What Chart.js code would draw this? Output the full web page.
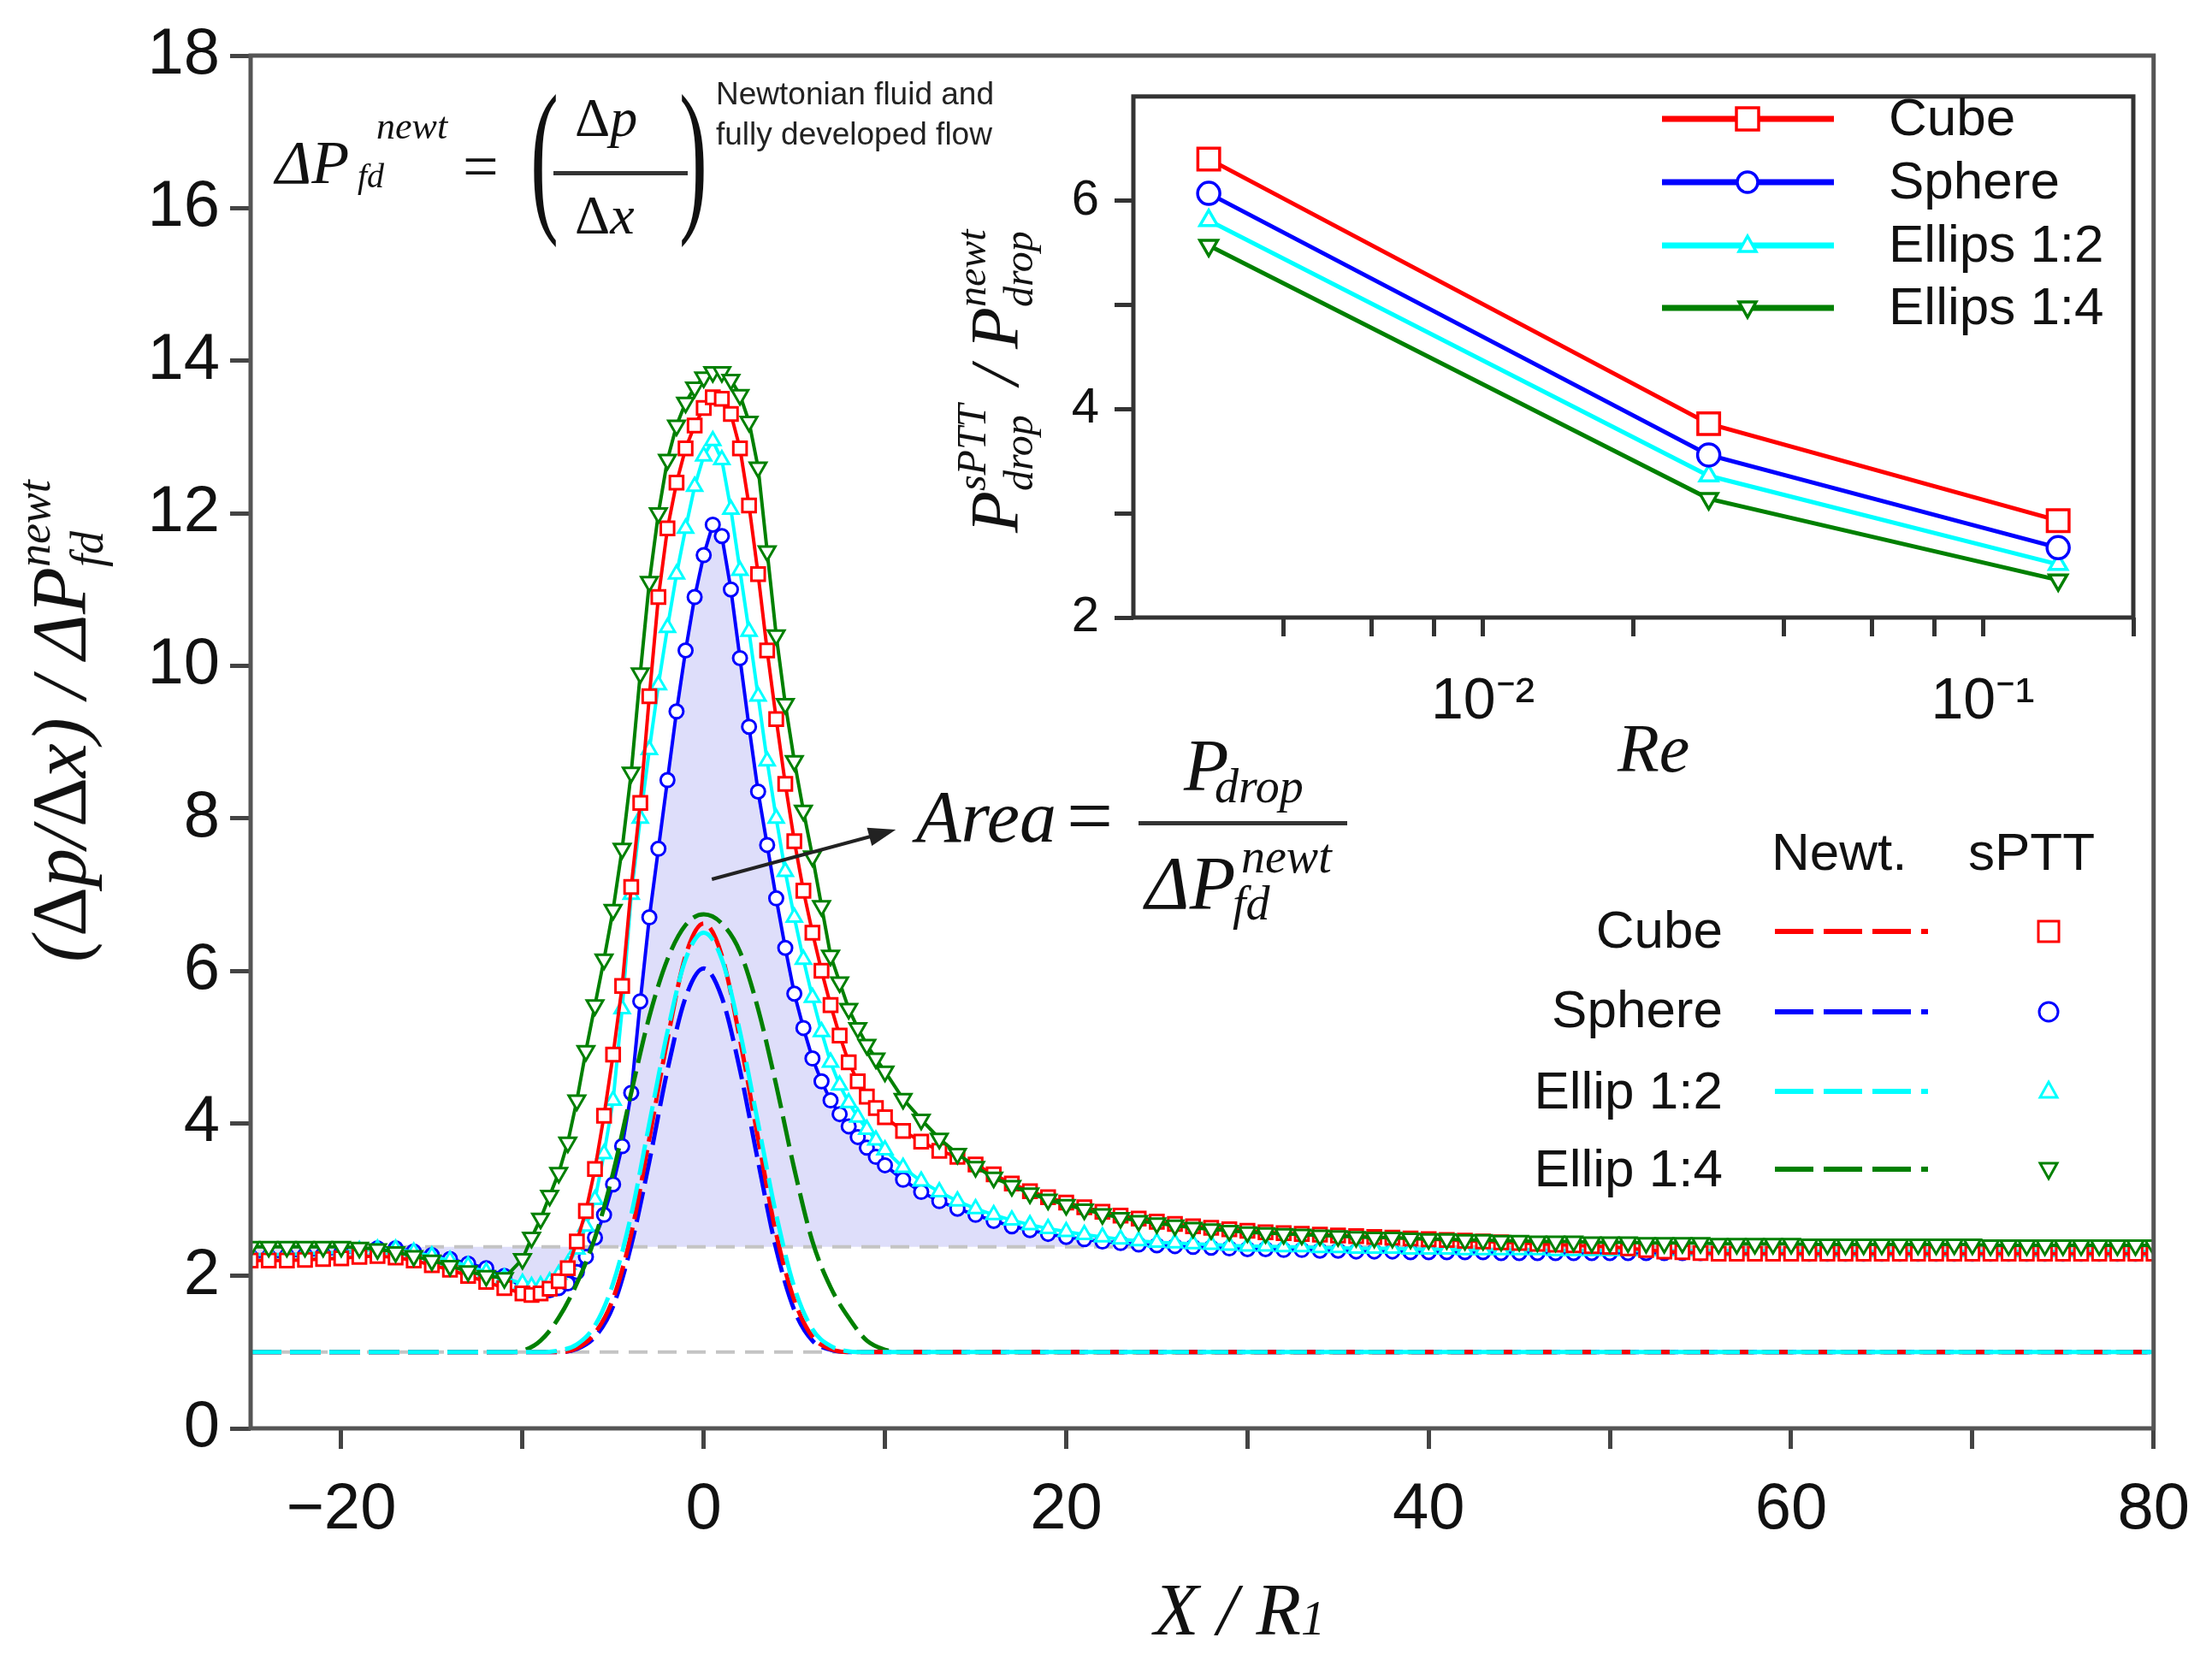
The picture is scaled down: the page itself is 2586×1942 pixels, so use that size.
<!DOCTYPE html>
<html>
<head>
<meta charset="utf-8">
<script src="https://cdn.jsdelivr.net/npm/chart.js@4.4.1/dist/chart.umd.min.js"></script>
<style>
  html, body { margin: 0; padding: 0; background: #fff; }
  #page { position: relative; width: 2586px; height: 1942px; overflow: hidden;
          font-family: "Liberation Sans", Arial, sans-serif; color: #111; }
  canvas { position: absolute; }
  .t { position: absolute; white-space: nowrap; line-height: 1; }
  .m { font-family: "Liberation Serif", "Times New Roman", serif; font-style: italic; }
  .up { font-style: normal; }
  .rot { transform: translate(-50%, -50%) rotate(-90deg); }
  .ss { display: inline-block; position: relative; height: 0; vertical-align: baseline; }
  .ss span { position: absolute; left: 0; font-size: 0.6em; line-height: 1; }
  .ss .sp { bottom: 0.62em; }
  .ss .sb { top: -0.47em; }
  .bar { position: absolute; background: #333; }
  svg { position: absolute; left: 0; top: 0; }
</style>
</head>
<body>
<div id="page">
  <canvas id="main" width="2586" height="1942" style="left:0;top:0;width:2586px;height:1942px"></canvas>
  <canvas id="inset" width="1400" height="820" style="left:1130px;top:60px;width:1400px;height:820px"></canvas>

  <!-- axis titles -->
  <div class="t m rot" style="left:70px;top:844px;font-size:90px">(<span class="up">Δ</span>p/<span class="up">Δ</span>x) / ΔP<span class="ss" style="width:100px"><span class="sp">newt</span><span class="sb">fd</span></span></div>
  <div class="t m" style="left:1349px;top:1839px;font-size:86px">X / R<span style="font-size:56px">1</span></div>

  <!-- definition of the fully developed pressure gradient -->
  <div class="t m" style="left:322px;top:154px;font-size:72px">ΔP</div>
  <div class="t m" style="left:440px;top:126px;font-size:44px">newt</div>
  <div class="t m" style="left:418px;top:186px;font-size:40px">fd</div>
  <div class="t" style="left:541px;top:157px;font-size:74px;font-family:'Liberation Serif',serif">=</div>
  <div class="t" style="left:620px;top:82px;font-size:198px;font-family:'Liberation Serif',serif;transform:scaleX(0.5);transform-origin:left top">(</div>
  <div class="t m" style="left:672px;top:106px;font-size:64px"><span class="up">Δ</span>p</div>
  <div class="bar" style="left:647px;top:200px;width:157px;height:5px"></div>
  <div class="t m" style="left:672px;top:220px;font-size:64px"><span class="up">Δ</span>x</div>
  <div class="t" style="left:794px;top:82px;font-size:198px;font-family:'Liberation Serif',serif;transform:scaleX(0.5);transform-origin:left top">)</div>
  <div class="t" style="left:837px;top:91px;font-size:37px;color:#222">Newtonian fluid and</div>
  <div class="t" style="left:837px;top:138px;font-size:37px;color:#222">fully developed flow</div>

  <!-- area annotation -->
  <div class="t m" style="left:1071px;top:912px;font-size:86px">Area</div>
  <div class="t" style="left:1247px;top:906px;font-size:96px;font-family:'Liberation Serif',serif">=</div>
  <div class="t m" style="left:1384px;top:852px;font-size:86px">P</div>
  <div class="t m" style="left:1420px;top:891px;font-size:56px">drop</div>
  <div class="bar" style="left:1331px;top:960px;width:244px;height:5px"></div>
  <div class="t m" style="left:1339px;top:989px;font-size:88px">ΔP</div>
  <div class="t m" style="left:1451px;top:973px;font-size:56px">newt</div>
  <div class="t m" style="left:1441px;top:1028px;font-size:56px">fd</div>

  <!-- main legend -->
  <div class="t" style="left:2071px;top:965px;font-size:62px">Newt.</div>
  <div class="t" style="left:2301px;top:965px;font-size:62px">sPTT</div>
  <div class="t" style="right:572px;top:1056px;font-size:62px;text-align:right">Cube</div>
  <div class="t" style="right:572px;top:1149px;font-size:62px;text-align:right">Sphere</div>
  <div class="t" style="right:572px;top:1244px;font-size:62px;text-align:right">Ellip 1:2</div>
  <div class="t" style="right:572px;top:1335px;font-size:62px;text-align:right">Ellip 1:4</div>

  <!-- inset titles and legend -->
  <div class="t m rot" style="left:1163px;top:441px;font-size:80px">P<span class="ss" style="width:104px"><span class="sp">sPTT</span><span class="sb">drop</span></span> / P<span class="ss" style="width:100px"><span class="sp">newt</span><span class="sb">drop</span></span></div>
  <div class="t m" style="left:1891px;top:835px;font-size:80px">Re</div>
  <div class="t" style="left:2208px;top:106px;font-size:62px">Cube</div>
  <div class="t" style="left:2208px;top:180px;font-size:62px">Sphere</div>
  <div class="t" style="left:2208px;top:254px;font-size:62px">Ellips 1:2</div>
  <div class="t" style="left:2208px;top:327px;font-size:62px">Ellips 1:4</div>

  <svg width="2586" height="1942" viewBox="0 0 2586 1942">
    <g stroke-width="6" stroke-dasharray="45 12 45 12 45 12 8 200" fill="none">
      <line x1="2075" y1="1089" x2="2262" y2="1089" stroke="#ff0000"/>
      <line x1="2075" y1="1183" x2="2262" y2="1183" stroke="#0000ff"/>
      <line x1="2075" y1="1276" x2="2262" y2="1276" stroke="#00ffff"/>
      <line x1="2075" y1="1367" x2="2262" y2="1367" stroke="#008000"/>
    </g>
    <g fill="#fff" stroke-width="3">
      <rect x="2383" y="1077" width="24" height="24" stroke="#ff0000"/>
      <circle cx="2395" cy="1183" r="11" stroke="#0000ff"/>
      <polygon points="2395,1265 2405,1283 2385,1283" stroke="#00ffff"/>
      <polygon points="2395,1378 2405,1360 2385,1360" stroke="#008000"/>
    </g>
    <g stroke-width="7" fill="none">
      <line x1="1943" y1="139" x2="2144" y2="139" stroke="#ff0000"/>
      <line x1="1943" y1="213" x2="2144" y2="213" stroke="#0000ff"/>
      <line x1="1943" y1="287" x2="2144" y2="287" stroke="#00ffff"/>
      <line x1="1943" y1="360" x2="2144" y2="360" stroke="#008000"/>
    </g>
    <g fill="#fff" stroke-width="3.5">
      <rect x="2030" y="126" width="26" height="26" stroke="#ff0000"/>
      <circle cx="2043" cy="213" r="12" stroke="#0000ff"/>
      <polygon points="2043,276 2053,294 2033,294" stroke="#00ffff"/>
      <polygon points="2043,371 2053,353 2033,353" stroke="#008000"/>
    </g>
  </svg>
</div>

<script>
// ---- main plot: pressure gradient along the channel ----
const X_SPTT = [-25, -24, -23, -22, -21, -20, -19, -18, -17, -16, -15, -14, -13, -12, -11, -10,
  -9.5, -9, -8.5, -8, -7.5, -7, -6.5, -6, -5.5, -5, -4.5, -4, -3.5, -3, -2.5, -2, -1.5, -1, -0.5, 0,
  0.5, 1, 1.5, 2, 2.5, 3, 3.5, 4, 4.5, 5, 5.5, 6, 6.5, 7, 7.5, 8, 8.5, 9, 9.5, 10,
  11, 12, 13, 14, 15, 16, 17, 18, 19, 20, 21, 22, 23, 24, 25, 26, 27, 28, 29, 30,
  31, 32, 33, 34, 35, 36, 37, 38, 39, 40, 41, 42, 43, 44, 45, 46, 47, 48, 49, 50,
  51, 52, 53, 54, 55, 56, 57, 58, 59, 60, 61, 62, 63, 64, 65, 66, 67, 68, 69, 70,
  71, 72, 73, 74, 75, 76, 77, 78, 79, 80];

const CUBE_SPTT = [2.2, 2.2, 2.2, 2.21, 2.22, 2.23, 2.25, 2.26, 2.24, 2.2, 2.14, 2.08, 2.0, 1.92, 1.84, 1.77,
  1.75, 1.77, 1.83, 1.93, 2.1, 2.45, 2.85, 3.4, 4.1, 4.9, 5.8, 7.1, 8.2, 9.6, 10.9, 11.8, 12.4, 12.85, 13.15, 13.38,
  13.52, 13.5, 13.3, 12.85, 12.1, 11.2, 10.2, 9.3, 8.45, 7.7, 7.05, 6.5, 6.0, 5.55, 5.15, 4.8, 4.55, 4.35, 4.2, 4.08,
  3.9, 3.76, 3.64, 3.56, 3.46, 3.33, 3.21, 3.11, 3.03, 2.96, 2.9, 2.84, 2.79, 2.75, 2.71, 2.68, 2.65, 2.63, 2.61, 2.59,
  2.57, 2.56, 2.55, 2.54, 2.53, 2.52, 2.51, 2.5, 2.49, 2.48, 2.47, 2.46, 2.45, 2.44, 2.43, 2.42, 2.41, 2.4, 2.39, 2.38,
  2.36, 2.34, 2.32, 2.31, 2.3, 2.29, 2.29, 2.29, 2.29, 2.29, 2.29, 2.29, 2.29, 2.29, 2.29, 2.29, 2.29, 2.29, 2.29, 2.29,
  2.29, 2.29, 2.29, 2.29, 2.29, 2.29, 2.29, 2.29, 2.29, 2.29];

const SPHERE_SPTT = [2.25, 2.25, 2.26, 2.27, 2.28, 2.3, 2.33, 2.36, 2.36, 2.32, 2.27, 2.22, 2.16, 2.1, 2.0, 1.85,
  1.81, 1.8, 1.81, 1.84, 1.9, 2.05, 2.25, 2.5, 2.8, 3.2, 3.7, 4.4, 5.6, 6.7, 7.6, 8.5, 9.4, 10.2, 10.9, 11.45,
  11.85, 11.7, 11.0, 10.1, 9.2, 8.35, 7.65, 6.95, 6.3, 5.7, 5.25, 4.85, 4.55, 4.3, 4.12, 3.96, 3.82, 3.68, 3.56, 3.45,
  3.26, 3.1, 2.98, 2.88, 2.8, 2.72, 2.65, 2.6, 2.55, 2.51, 2.48, 2.45, 2.43, 2.41, 2.4, 2.39, 2.38, 2.37, 2.36, 2.35,
  2.35, 2.34, 2.34, 2.33, 2.33, 2.32, 2.32, 2.32, 2.31, 2.31, 2.31, 2.31, 2.31, 2.3, 2.3, 2.3, 2.3, 2.3, 2.3, 2.3,
  2.3, 2.3, 2.3, 2.3, 2.3, 2.3, 2.3, 2.3, 2.3, 2.3, 2.29, 2.29, 2.29, 2.29, 2.29, 2.29, 2.29, 2.29, 2.29, 2.29,
  2.29, 2.29, 2.29, 2.29, 2.29, 2.29, 2.29, 2.29, 2.29, 2.29];

const ELLIP2_SPTT = [2.28, 2.28, 2.28, 2.29, 2.3, 2.31, 2.33, 2.35, 2.35, 2.31, 2.26, 2.2, 2.13, 2.05, 1.97, 1.9,
  1.86, 1.87, 1.92, 2.02, 2.15, 2.35, 2.65, 3.0, 3.6, 4.3, 5.5, 7.0, 8.0, 8.9, 9.75, 10.5, 11.2, 11.8, 12.35, 12.75,
  12.95, 12.7, 12.05, 11.25, 10.45, 9.6, 8.75, 8.0, 7.3, 6.7, 6.15, 5.65, 5.2, 4.8, 4.5, 4.27, 4.08, 3.92, 3.78, 3.65,
  3.42, 3.24, 3.1, 2.98, 2.88, 2.8, 2.73, 2.67, 2.62, 2.58, 2.54, 2.51, 2.48, 2.46, 2.44, 2.43, 2.42, 2.41, 2.4, 2.39,
  2.39, 2.38, 2.38, 2.37, 2.37, 2.36, 2.36, 2.36, 2.35, 2.35, 2.35, 2.34, 2.34, 2.34, 2.34, 2.34, 2.33, 2.33, 2.33, 2.33,
  2.33, 2.33, 2.33, 2.33, 2.33, 2.33, 2.33, 2.33, 2.33, 2.33, 2.32, 2.32, 2.32, 2.32, 2.32, 2.32, 2.32, 2.32, 2.32, 2.32,
  2.32, 2.32, 2.32, 2.32, 2.32, 2.32, 2.32, 2.32, 2.32, 2.32];

const ELLIP4_SPTT = [2.38, 2.38, 2.38, 2.38, 2.38, 2.38, 2.37, 2.35, 2.31, 2.26, 2.2, 2.13, 2.06, 2.0, 1.97, 2.22,
  2.5, 2.75, 3.05, 3.35, 3.75, 4.3, 4.95, 5.55, 6.15, 6.8, 7.6, 8.6, 9.9, 11.1, 12.0, 12.7, 13.15, 13.45, 13.65, 13.78,
  13.85, 13.85, 13.75, 13.55, 13.2, 12.6, 11.5, 10.4, 9.5, 8.75, 8.1, 7.5, 6.85, 6.2, 5.85, 5.5, 5.25, 5.03, 4.85, 4.68,
  4.32, 4.05, 3.8, 3.6, 3.43, 3.29, 3.18, 3.08, 3.0, 2.93, 2.87, 2.81, 2.76, 2.72, 2.69, 2.66, 2.63, 2.61, 2.59, 2.57,
  2.56, 2.55, 2.54, 2.53, 2.52, 2.51, 2.5, 2.5, 2.49, 2.48, 2.48, 2.47, 2.47, 2.46, 2.46, 2.45, 2.45, 2.45, 2.44, 2.44,
  2.44, 2.43, 2.43, 2.43, 2.43, 2.42, 2.42, 2.42, 2.42, 2.42, 2.41, 2.41, 2.41, 2.41, 2.41, 2.41, 2.41, 2.41, 2.41, 2.41,
  2.4, 2.4, 2.4, 2.4, 2.4, 2.4, 2.4, 2.4, 2.4, 2.4];

const X_NEWT = [-25, -20, -15, -12, -11, -10, -9, -8, -7, -6, -5, -4, -3, -2, -1, 0,
  1, 2, 3, 4, 5, 6, 7, 8, 9, 10, 11, 12, 15, 20, 30, 40, 50, 60, 70, 80];
const CUBE_NEWT = [1, 1, 1, 1, 1, 1, 1, 1.0, 1.05, 1.25, 1.7, 2.55, 3.8, 5.1, 6.2, 6.62,
  6.2, 5.1, 3.8, 2.55, 1.68, 1.2, 1.04, 1.0, 1, 1, 1, 1, 1, 1, 1, 1, 1, 1, 1, 1];
const SPHERE_NEWT = [1, 1, 1, 1, 1, 1, 1, 1.0, 1.04, 1.2, 1.6, 2.4, 3.5, 4.7, 5.65, 6.03,
  5.65, 4.7, 3.5, 2.35, 1.55, 1.15, 1.03, 1.0, 1, 1, 1, 1, 1, 1, 1, 1, 1, 1, 1, 1];
const ELLIP2_NEWT = [1, 1, 1, 1, 1, 1, 1.0, 1.02, 1.1, 1.35, 1.9, 2.8, 4.0, 5.2, 6.15, 6.5,
  6.15, 5.2, 4.0, 2.8, 1.85, 1.3, 1.08, 1.01, 1.0, 1, 1, 1, 1, 1, 1, 1, 1, 1, 1, 1];
const ELLIP4_NEWT = [1, 1, 1, 1, 1.0, 1.02, 1.15, 1.45, 1.9, 2.5, 3.35, 4.4, 5.4, 6.15, 6.6, 6.74,
  6.62, 6.25, 5.5, 4.5, 3.4, 2.45, 1.85, 1.45, 1.15, 1.03, 1.0, 1, 1, 1, 1, 1, 1, 1, 1, 1];

// fully developed levels: Newtonian and sPTT
const FD_LEVELS = [1, 2.38];
const X_RANGE = [-25, 80];
const X_TICKS = [-20, -10, 0, 10, 20, 30, 40, 50, 60, 70, 80];
const Y_TICKS = [0, 2, 4, 6, 8, 10, 12, 14, 16, 18];

// ---- inset: pressure drop ratio vs Reynolds number ----
const RE = [0.00283, 0.0283, 0.1415];
const CUBE_RATIO = [6.40, 3.86, 2.93];
const SPHERE_RATIO = [6.07, 3.56, 2.67];
const ELLIP2_RATIO = [5.81, 3.36, 2.51];
const ELLIP4_RATIO = [5.57, 3.14, 2.36];
const RE_TICKS = [0.004, 0.006, 0.008, 0.01, 0.02, 0.04, 0.06, 0.08, 0.1, 0.2];
const RATIO_TICKS = [2, 3, 4, 5, 6];

const RED = '#ff0000', BLUE = '#0000ff', CYAN = '#00ffff', GREEN = '#008000';
const SANS = "'Liberation Sans', Arial, sans-serif";

const pts = (xs, ys) => xs.map((x, i) => ({ x: x, y: ys[i] }));

const frame = {
  id: 'frame',
  afterDraw(chart, args, opts) {
    const { ctx, chartArea: a } = chart;
    ctx.save();
    ctx.strokeStyle = opts.color;
    ctx.lineWidth = opts.width;
    ctx.strokeRect(a.left, a.top, a.right - a.left, a.bottom - a.top);
    ctx.restore();
  }
};

const arrow = {
  id: 'arrow',
  afterDatasetsDraw(chart, args, opts) {
    if (!opts.from) return;
    const { ctx } = chart;
    const sx = chart.scales.x, sy = chart.scales.y;
    const x0 = sx.getPixelForValue(opts.from[0]), y0 = sy.getPixelForValue(opts.from[1]);
    const x1 = sx.getPixelForValue(opts.to[0]), y1 = sy.getPixelForValue(opts.to[1]);
    const ang = Math.atan2(y1 - y0, x1 - x0);
    ctx.save();
    ctx.strokeStyle = '#222';
    ctx.fillStyle = '#222';
    ctx.lineWidth = 4;
    ctx.beginPath();
    ctx.moveTo(x0, y0);
    ctx.lineTo(x1 - 20 * Math.cos(ang), y1 - 20 * Math.sin(ang));
    ctx.stroke();
    ctx.beginPath();
    ctx.moveTo(x1, y1);
    ctx.lineTo(x1 - 32 * Math.cos(ang) + 11 * Math.sin(ang), y1 - 32 * Math.sin(ang) - 11 * Math.cos(ang));
    ctx.lineTo(x1 - 32 * Math.cos(ang) - 11 * Math.sin(ang), y1 - 32 * Math.sin(ang) + 11 * Math.cos(ang));
    ctx.closePath();
    ctx.fill();
    ctx.restore();
  }
};

function spttSet(label, ys, color, style, radius, order, extra) {
  return Object.assign({
    label: label,
    data: pts(X_SPTT, ys),
    borderColor: color,
    borderWidth: 4,
    pointStyle: style,
    pointRadius: radius,
    pointBorderColor: color,
    pointBackgroundColor: '#fff',
    pointBorderWidth: 3,
    tension: 0,
    fill: false,
    order: order
  }, extra || {});
}

function newtSet(label, ys, color, order) {
  return {
    label: label,
    data: pts(X_NEWT, ys),
    borderColor: color,
    borderWidth: 5,
    borderDash: [36, 10],
    pointRadius: 0,
    cubicInterpolationMode: 'monotone',
    fill: false,
    order: order
  };
}

function fdSet(level) {
  return {
    label: 'fd ' + level,
    data: X_RANGE.map(x => ({ x: x, y: level })),
    borderColor: '#c4c4c4',
    borderWidth: 4,
    borderDash: [22, 12],
    pointRadius: 0,
    fill: false,
    order: 20
  };
}

new Chart(document.getElementById('main'), {
  type: 'line',
  data: {
    datasets: [
      newtSet('Cube Newt.', CUBE_NEWT, RED, 2),
      newtSet('Sphere Newt.', SPHERE_NEWT, BLUE, 3),
      newtSet('Ellip 1:2 Newt.', ELLIP2_NEWT, CYAN, 1),
      newtSet('Ellip 1:4 Newt.', ELLIP4_NEWT, GREEN, 4),
      spttSet('Ellip 1:4 sPTT', ELLIP4_SPTT, GREEN, 'triangle', 11, 5, { pointRotation: 180 }),
      spttSet('Cube sPTT', CUBE_SPTT, RED, 'rect', 11, 6),
      spttSet('Ellip 1:2 sPTT', ELLIP2_SPTT, CYAN, 'triangle', 10, 7),
      spttSet('Sphere sPTT', SPHERE_SPTT, BLUE, 'circle', 8, 8,
        { fill: { value: FD_LEVELS[1] }, backgroundColor: '#dedefa' }),
      fdSet(FD_LEVELS[0]),
      fdSet(FD_LEVELS[1])
    ]
  },
  options: {
    responsive: false,
    devicePixelRatio: 1,
    animation: false,
    layout: { padding: { left: 0, top: 65, right: 51, bottom: 0 } },
    plugins: {
      legend: { display: false },
      tooltip: { enabled: false },
      filler: { propagate: false, drawTime: 'beforeDatasetsDraw' },
      frame: { color: '#555', width: 5 },
      arrow: { from: [0.45, 7.2], to: [10.6, 7.85] }
    },
    scales: {
      x: {
        type: 'linear',
        min: X_RANGE[0],
        max: X_RANGE[1],
        afterBuildTicks: s => { s.ticks = X_TICKS.map(v => ({ value: v })); },
        afterFit: s => { s.height = 272; },
        grid: { display: true, drawOnChartArea: false, drawTicks: true, tickLength: 24, tickWidth: 5, tickColor: '#444' },
        border: { display: false },
        ticks: {
          autoSkip: false, maxRotation: 0, padding: 26, color: '#111',
          font: { family: SANS, size: 76 },
          callback: v => (v % 20 === 0 ? String(v).replace('-', '\u2212') : '')
        }
      },
      y: {
        min: 0,
        max: 18,
        afterBuildTicks: s => { s.ticks = Y_TICKS.map(v => ({ value: v })); },
        afterFit: s => { s.width = 293; },
        grid: { display: true, drawOnChartArea: false, drawTicks: true, tickLength: 24, tickWidth: 5, tickColor: '#444' },
        border: { display: false },
        ticks: { padding: 12, color: '#111', font: { family: SANS, size: 76 } }
      }
    }
  },
  plugins: [frame, arrow]
});

function ratioSet(label, ys, color, style, radius, extra) {
  return Object.assign({
    label: label,
    data: pts(RE, ys),
    borderColor: color,
    borderWidth: 5,
    pointStyle: style,
    pointRadius: radius,
    pointBorderColor: color,
    pointBackgroundColor: '#fff',
    pointBorderWidth: 3.5,
    tension: 0,
    fill: false
  }, extra || {});
}

new Chart(document.getElementById('inset'), {
  type: 'line',
  data: {
    datasets: [
      ratioSet('Cube', CUBE_RATIO, RED, 'rect', 18),
      ratioSet('Sphere', SPHERE_RATIO, BLUE, 'circle', 13),
      ratioSet('Ellips 1:2', ELLIP2_RATIO, CYAN, 'triangle', 12),
      ratioSet('Ellips 1:4', ELLIP4_RATIO, GREEN, 'triangle', 12, { pointRotation: 180 })
    ]
  },
  options: {
    responsive: false,
    devicePixelRatio: 1,
    animation: false,
    layout: { padding: { left: 0, top: 25, right: 20, bottom: 0 } },
    plugins: {
      legend: { display: false },
      tooltip: { enabled: false },
      frame: { color: '#333', width: 5 }
    },
    scales: {
      x: {
        type: 'logarithmic',
        min: 0.002,
        max: 0.2,
        afterBuildTicks: s => { s.ticks = RE_TICKS.map(v => ({ value: v })); },
        afterFit: s => { s.height = 158; },
        grid: { display: true, drawOnChartArea: false, drawTicks: true, tickLength: 22, tickWidth: 5, tickColor: '#333' },
        border: { display: false },
        ticks: {
          autoSkip: false, maxRotation: 0, padding: 36, color: '#111',
          font: { family: SANS, size: 68 },
          callback: v => (Math.abs(v - 0.01) < 1e-9 ? '10\u207B\u00B2' : Math.abs(v - 0.1) < 1e-9 ? '10\u207B\u00B9' : '')
        }
      },
      y: {
        min: 2,
        max: 7,
        afterBuildTicks: s => { s.ticks = RATIO_TICKS.map(v => ({ value: v })); },
        afterFit: s => { s.width = 195; },
        grid: { display: true, drawOnChartArea: false, drawTicks: true, tickLength: 22, tickWidth: 5, tickColor: '#333' },
        border: { display: false },
        ticks: {
          padding: 18, color: '#111', font: { family: SANS, size: 58 },
          callback: v => (v % 2 === 0 ? String(v) : '')
        }
      }
    }
  },
  plugins: [frame]
});
</script>
</body>
</html>
